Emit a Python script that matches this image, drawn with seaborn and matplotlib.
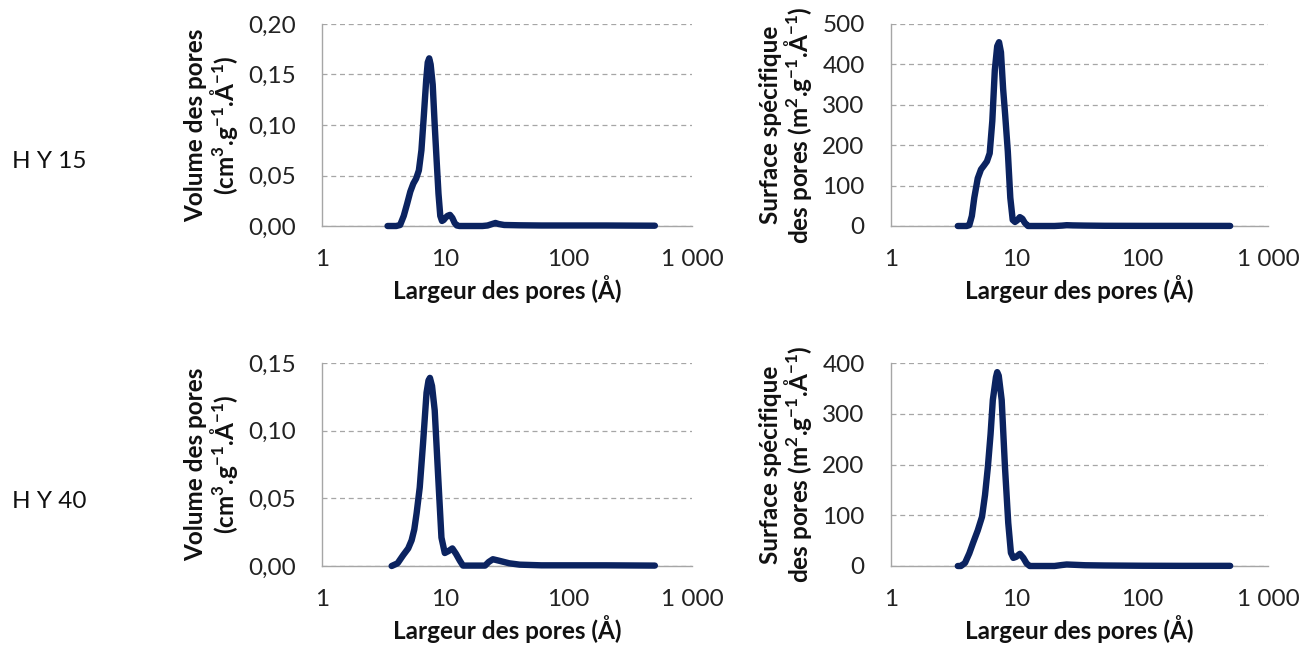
import numpy as np
import pandas as pd
import matplotlib
matplotlib.use("Agg")
import matplotlib.pyplot as plt
import seaborn as sns
from matplotlib.ticker import FixedLocator, FuncFormatter

# -------------------------
# Données
# -------------------------
hy15_vol_x = [3.4, 4.0, 4.3, 4.6, 4.9, 5.2, 5.5, 5.8, 6.1, 6.4, 6.7, 7.0, 7.2, 7.4,
              7.6, 7.9, 8.2, 8.5, 8.8, 9.1, 9.4, 9.7, 10.0, 10.4, 10.9, 11.4, 11.9,
              12.4, 13, 20, 22, 24, 25.5, 27, 30, 40, 60, 100, 200, 300, 500]
hy15_vol_y = [0, 0, 0.001, 0.010, 0.022, 0.034, 0.042, 0.047, 0.055, 0.075, 0.11,
              0.145, 0.162, 0.166, 0.16, 0.14, 0.10, 0.065, 0.032, 0.01, 0.005, 0.006,
              0.008, 0.010, 0.011, 0.008, 0.003, 0.0005, 0, 0, 0.0005, 0.002, 0.003,
              0.002, 0.001, 0.0007, 0.0005, 0.0005, 0.0005, 0.0004, 0.0003]

hy15_surf_x = [3.4, 4.0, 4.2, 4.4, 4.6, 4.9, 5.2, 5.5, 5.8, 6.1, 6.4, 6.7, 7.0, 7.24,
               7.5, 7.8, 8.1, 8.5, 8.9, 9.3, 9.7, 10.1, 10.6, 11.1, 11.6, 12.3, 13,
               20, 23, 25, 28, 35, 50, 100, 200, 500]
hy15_surf_y = [0, 0, 2, 25, 70, 118, 140, 150, 160, 180, 260, 386, 445, 455,
               430, 340, 275, 185, 70, 15, 10, 14, 22, 18, 8, 0, 0,
               0, 1, 2, 1.5, 1, 0.5, 0.3, 0.3, 0.2]

hy40_vol_x = [3.67, 4.1, 4.55, 5.0, 5.33, 5.6, 5.85, 6.2, 6.6, 7.04, 7.3, 7.5, 7.8,
              8.2, 8.75, 9.3, 9.9, 10.6, 11.4, 12.2, 13.1, 13.9, 21, 22.5, 24.3, 27,
              33, 40, 60, 100, 200, 500]
hy40_vol_y = [0, 0.002, 0.008, 0.013, 0.019, 0.027, 0.039, 0.058, 0.091, 0.128, 0.137,
              0.139, 0.133, 0.115, 0.066, 0.021, 0.0096, 0.011, 0.013, 0.009, 0.004,
              0.0003, 0.0003, 0.003, 0.005, 0.004, 0.002, 0.001, 0.0005, 0.0005,
              0.0005, 0.0003]

hy40_surf_x = [3.4, 3.6, 3.88, 4.2, 4.49, 4.9, 5.3, 5.6, 5.9, 6.2, 6.46, 6.84, 7.0,
               7.2, 7.6, 8.07, 8.57, 9.0, 9.4, 9.9, 10.6, 11.3, 12.0, 12.7, 20, 23,
               25, 28, 35, 50, 100, 200, 500]
hy40_surf_y = [0, 0, 6, 25, 45, 70, 97, 140, 195, 260, 327, 372, 382,
               375, 327, 195, 85, 26, 16, 18, 24, 16, 5, 0, 0, 2,
               3, 2.5, 1.5, 1, 0.5, 0.3, 0.3]

x_ticks = [1, 10, 100, 1000]
x_tick_labels = ["1", "10", "100", "1 000"]
row_labels = ["H Y 15", "H Y 40"]

LINE_COLOR = "#0B2360"
AXIS_COLOR = "#A6A6A6"
FS = 17.5

sns.set_theme(style="white")
plt.rcParams["font.family"] = ["Lato", "DejaVu Sans"]
plt.rcParams["mathtext.fontset"] = "custom"
plt.rcParams["mathtext.rm"] = "Lato:bold"
plt.rcParams["mathtext.it"] = "Lato:bold"
plt.rcParams["mathtext.bf"] = "Lato:bold"


def fmt_comma(v, dec):
    if dec == 0:
        return f"{v:.0f}"
    return f"{v:.{dec}f}".replace(".", ",")


def draw_panel(ax, xs, ys, ymax, ystep, dec, ylabel):
    df = pd.DataFrame({"x": xs, "y": ys})
    sns.lineplot(data=df, x="x", y="y", ax=ax, color=LINE_COLOR, lw=4.6,
                 sort=False, solid_joinstyle="round", solid_capstyle="round",
                 clip_on=False, zorder=5)
    ax.set_xscale("log")
    ax.set_xlim(1, 1000)
    ax.set_ylim(0, ymax)
    ax.xaxis.set_major_locator(FixedLocator(x_ticks))
    ax.set_xticklabels(x_tick_labels)
    ax.xaxis.set_minor_locator(FixedLocator([]))
    yt = np.arange(0, ymax + ystep / 2, ystep)
    ax.yaxis.set_major_locator(FixedLocator(yt))
    ax.yaxis.set_major_formatter(FuncFormatter(lambda v, p: fmt_comma(v, dec)))

    for s in ["top", "right"]:
        ax.spines[s].set_visible(False)
    for s in ["left", "bottom"]:
        ax.spines[s].set_color(AXIS_COLOR)
        ax.spines[s].set_linewidth(1.0)

    ax.tick_params(axis="x", direction="inout", length=11, width=1.0,
                   color=AXIS_COLOR, labelsize=FS, pad=11, labelcolor="#222222")
    ax.tick_params(axis="y", direction="out", length=6, width=1.0,
                   color=AXIS_COLOR, labelsize=FS, pad=13, labelcolor="#222222")
    ax.yaxis.grid(True, color=AXIS_COLOR, linestyle=(0, (4, 3)), lw=0.9)
    ax.xaxis.grid(False)

    ax.set_xlabel("Largeur des pores (Å)", fontsize=FS, fontweight="bold",
                  labelpad=4, color="#111111")
    ax.set_ylabel(ylabel, fontsize=FS, fontweight="bold", labelpad=6,
                  color="#111111", linespacing=1.0)


fig = plt.figure(figsize=(13.03, 6.46), dpi=100)
fig.patch.set_facecolor("white")

W, H = 1303, 646
left_x0, left_x1 = 322, 692
right_x0, right_x1 = 891, 1268
top_y0, top_y1 = 24, 226
bot_y0, bot_y1 = 363, 566


def box(x0, x1, y0, y1):
    return [x0 / W, 1 - y1 / H, (x1 - x0) / W, (y1 - y0) / H]


vol_label = "Volume des pores\n(cm$^{3}$.g$^{-1}$.Å$^{-1}$)"
surf_label = "Surface spécifique\ndes pores (m$^{2}$.g$^{-1}$.Å$^{-1}$)"

ax1 = fig.add_axes(box(left_x0, left_x1, top_y0, top_y1))
draw_panel(ax1, hy15_vol_x, hy15_vol_y, 0.20, 0.05, 2, vol_label)

ax2 = fig.add_axes(box(right_x0, right_x1, top_y0, top_y1))
draw_panel(ax2, hy15_surf_x, hy15_surf_y, 500, 100, 0, surf_label)

ax3 = fig.add_axes(box(left_x0, left_x1, bot_y0, bot_y1))
draw_panel(ax3, hy40_vol_x, hy40_vol_y, 0.15, 0.05, 2, vol_label)

ax4 = fig.add_axes(box(right_x0, right_x1, bot_y0, bot_y1))
draw_panel(ax4, hy40_surf_x, hy40_surf_y, 400, 100, 0, surf_label)

fig.text(12 / W, 1 - 162 / H, row_labels[0], fontsize=FS, va="center", ha="left",
         color="#111111")
fig.text(12 / W, 1 - 502 / H, row_labels[1], fontsize=FS, va="center", ha="left",
         color="#111111")

fig.savefig("out.png", dpi=100)
plt.close(fig)
